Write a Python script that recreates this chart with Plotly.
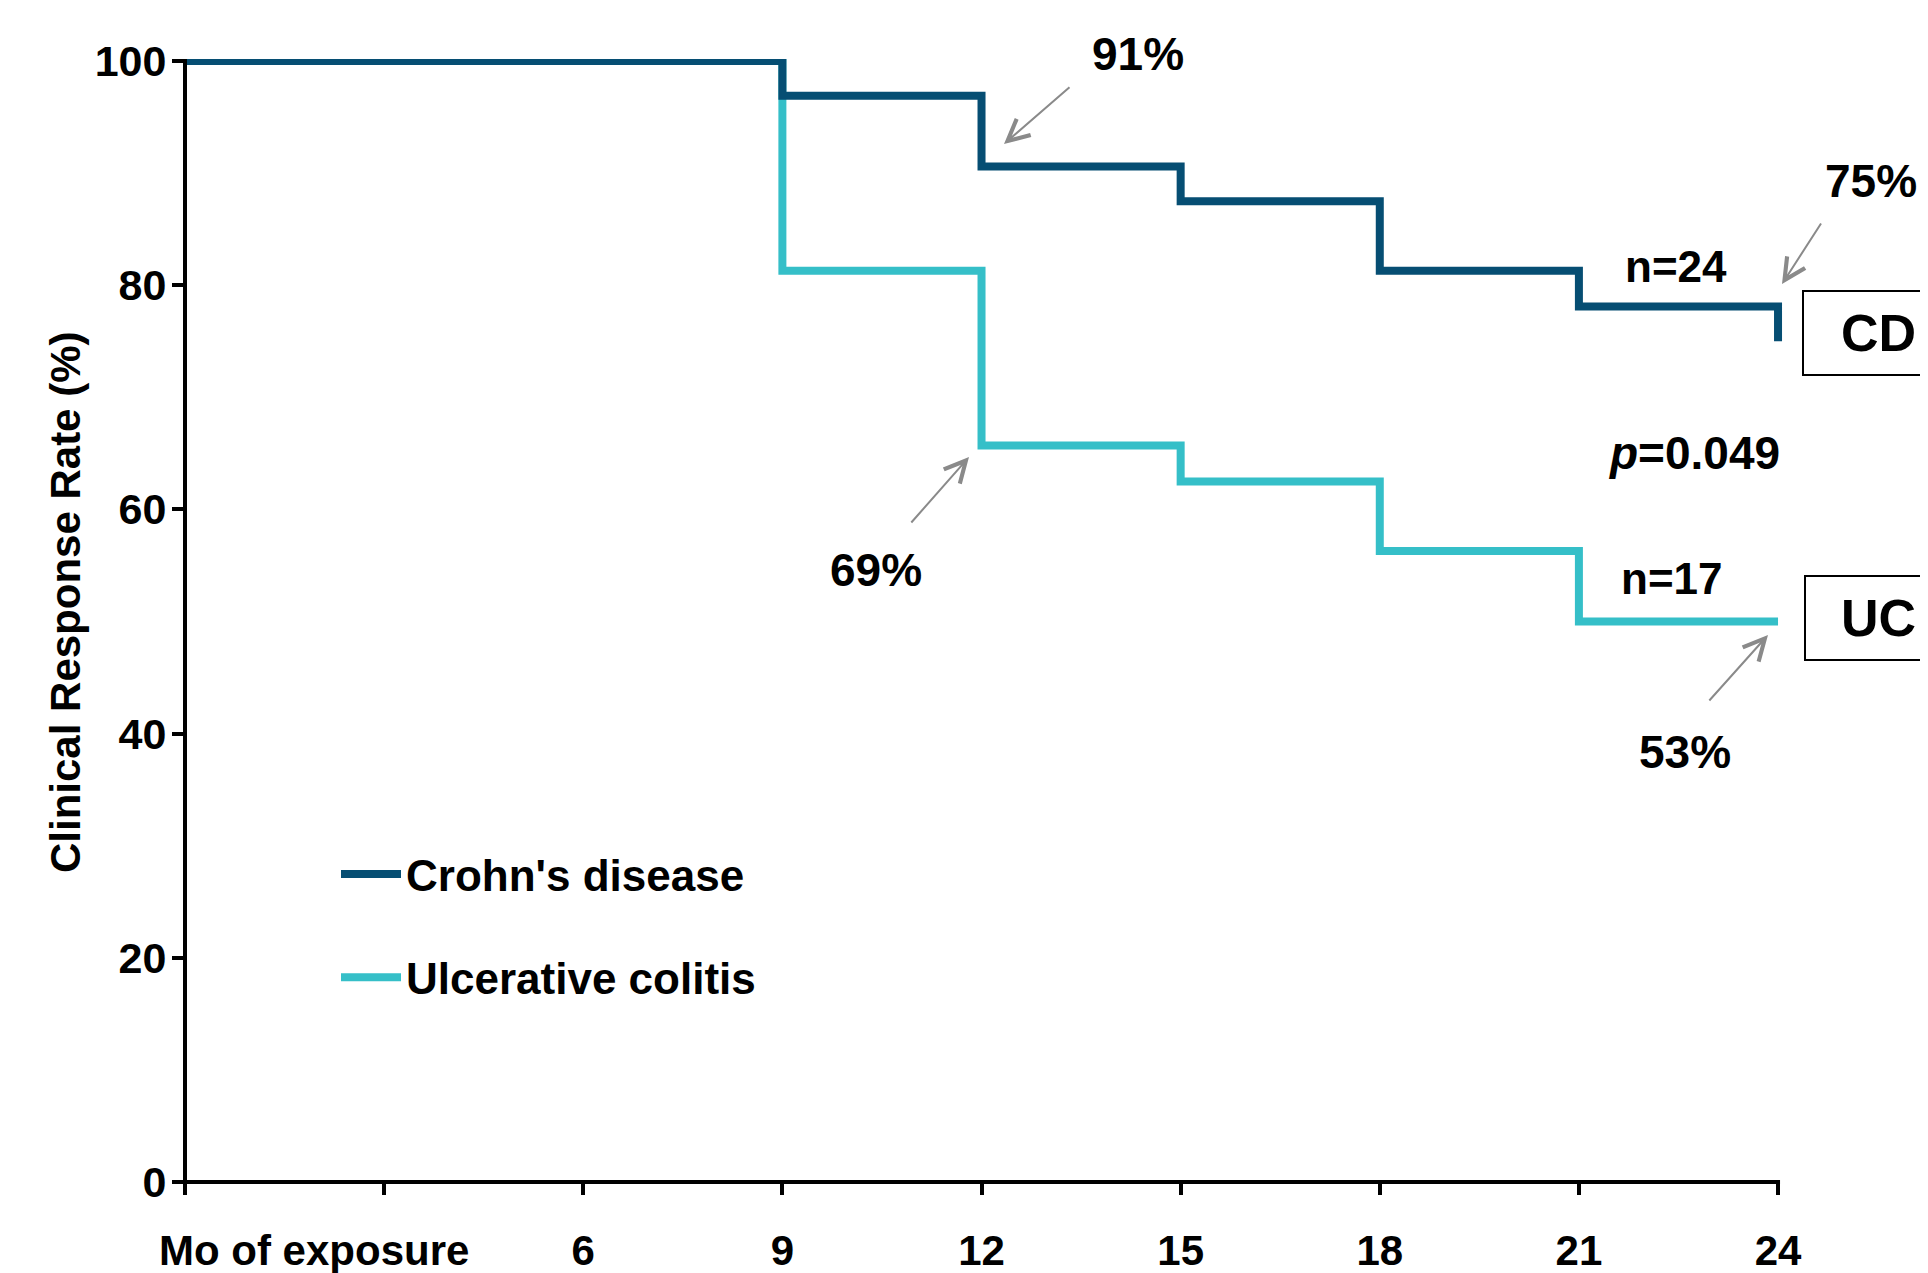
import plotly.graph_objects as go

# ---------------- data ----------------
months = [0, 9, 12, 15, 18, 21, 24]
cd_rate = [100, 96.9, 90.6, 87.5, 81.3, 78.1, 75.0]
uc_rate = [100, 81.3, 65.7, 62.5, 56.3, 50.0, 50.0]
series_names = ["Crohn's disease", "Ulcerative colitis"]
x_tickvals = [0, 3, 6, 9, 12, 15, 18, 21, 24]
x_ticktext = ["", "", "6", "9", "12", "15", "18", "21", "24"]
y_tickvals = [0, 20, 40, 60, 80, 100]
x_title = "Mo of exposure"
y_title = "Clinical Response Rate (%)"

# ---------------- layout geometry ----------------
OFF = 8                      # page body margin
W, H = 1928 - OFF, 1273 - OFF
L, T = 185 - OFF, 59 - OFF
X_MAX, Y_MAX = 24.12, 100.18
PW, PH = 1601, 1123
R = W - L - PW
B = H - T - PH

CD_COLOR = "#064E73"
UC_COLOR = "#35BFC8"
FONT = "Liberation Sans, Arial, Helvetica, sans-serif"


def px(xp):
    """screen x (reference pixels) -> paper x"""
    return (xp - OFF - L) / PW


def py(yp):
    """screen y (reference pixels) -> paper y"""
    return (T + PH - (yp - OFF)) / PH


fig = go.Figure()
fig.add_trace(go.Scatter(x=months, y=uc_rate, mode="lines", line_shape="hv",
                         line=dict(color=UC_COLOR, width=8), name=series_names[1],
                         legendgroup="uc", legendrank=2))
fig.add_trace(go.Scatter(x=months, y=cd_rate, mode="lines", line_shape="hv",
                         line=dict(color=CD_COLOR, width=8), name=series_names[0],
                         legendgroup="cd", legendrank=1))

shapes = []
# axis lines
shapes.append(dict(type="line", xref="paper", yref="paper",
                   x0=-2 / PW, x1=24 / X_MAX + 2 / PW, y0=0, y1=0,
                   line=dict(color="black", width=4)))
shapes.append(dict(type="line", xref="paper", yref="paper",
                   x0=0, x1=0, y0=-2 / PH, y1=100 / Y_MAX + 2 / PH,
                   line=dict(color="black", width=4)))
# group boxes
shapes.append(dict(type="rect", xref="paper", yref="paper",
                   x0=px(1803), x1=px(1945), y0=py(375), y1=py(291),
                   line=dict(color="black", width=2)))
shapes.append(dict(type="rect", xref="paper", yref="paper",
                   x0=px(1805), x1=px(1945), y0=py(660), y1=py(576),
                   line=dict(color="black", width=2)))

annotations = []


def text(t, xp, yp, size, **kw):
    annotations.append(dict(text=t, x=px(xp), y=py(yp), xref="paper", yref="paper",
                            showarrow=False, xanchor="center", yanchor="middle",
                            font=dict(family=FONT, size=size, color="black", weight="bold"),
                            **kw))


def arrow(tail, tip):
    annotations.append(dict(text="", x=px(tip[0]), y=py(tip[1]), xref="paper", yref="paper",
                            ax=tail[0] - tip[0], ay=tail[1] - tip[1], axref="pixel", ayref="pixel",
                            showarrow=True, arrowhead=5, arrowsize=2.1, arrowwidth=2,
                            arrowcolor="#8a8a8a", standoff=0, startstandoff=0))


text("91%", 1138, 54, 46)
arrow((1071, 86), (1004, 144))
text("69%", 876, 570, 46)
arrow((910, 524), (969, 457))
text("75%", 1871, 181, 46)
arrow((1822, 222), (1782, 284))
text("53%", 1685, 752, 46)
arrow((1708, 702), (1768, 635))
text("n=24", 1676, 266, 44)
text("n=17", 1672, 578, 44)
text("<i>p</i>=0.049", 1694, 453, 46)
text("CD", 1878, 333, 52)
text("UC", 1878, 618, 52)
text(x_title, 314, 1250, 42)
text(y_title, 65, 603, 42, textangle=-90)

fig.update_layout(
    width=W, height=H,
    margin=dict(l=L, r=R, t=T, b=B, pad=0, autoexpand=False),
    paper_bgcolor="white", plot_bgcolor="white",
    font=dict(family=FONT, size=40, color="black", weight="bold"),
    shapes=shapes, annotations=annotations,
    showlegend=True,
    legend=dict(x=px(336), y=py(839), xanchor="left", yanchor="top",
                font=dict(family=FONT, size=44, color="black", weight="bold"),
                itemwidth=60, traceorder="grouped", tracegroupgap=43,
                bgcolor="rgba(0,0,0,0)", borderwidth=0),
)
fig.update_xaxes(range=[0, X_MAX], showgrid=False, zeroline=False, showline=False,
                 automargin=False,
                 tickmode="array", tickvals=x_tickvals, ticktext=x_ticktext,
                 ticks="outside", ticklen=12, tickwidth=4, tickcolor="black",
                 ticklabelstandoff=20,
                 tickfont=dict(family=FONT, size=42, color="black", weight="bold"))
fig.update_yaxes(range=[0, Y_MAX], showgrid=False, zeroline=False, showline=False,
                 automargin=False,
                 tickmode="array", tickvals=y_tickvals,
                 ticks="outside", ticklen=12, tickwidth=4, tickcolor="black",
                 ticklabelstandoff=-3,
                 tickfont=dict(family=FONT, size=43, color="black", weight="bold"))

fig.write_html("out.html")
